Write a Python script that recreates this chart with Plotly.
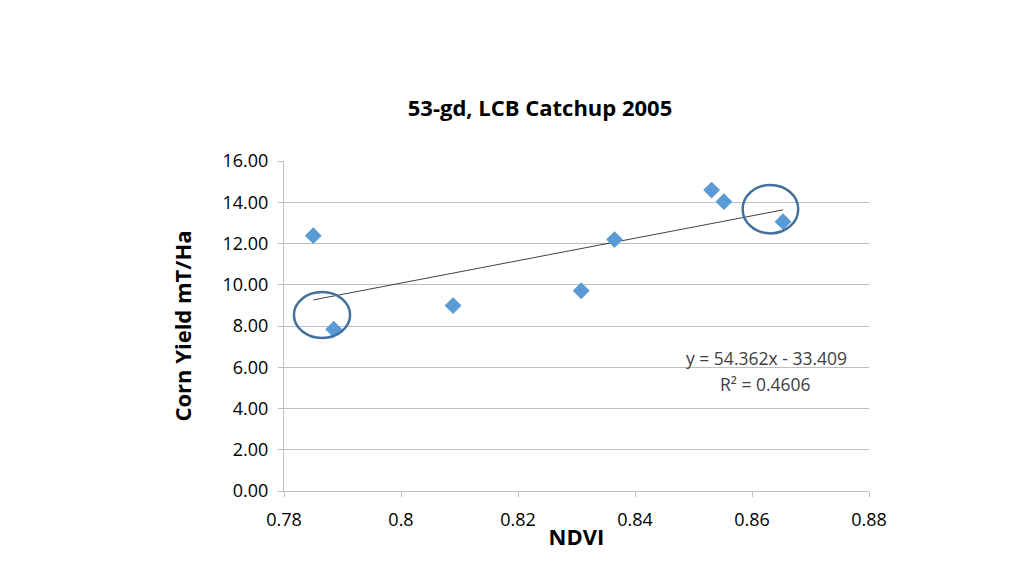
import plotly.graph_objects as go

ndvi = [0.7850, 0.7885, 0.8089, 0.8308, 0.8365, 0.8531, 0.8552, 0.8653]
yield_t = [12.38, 7.84, 8.99, 9.71, 12.19, 14.59, 14.03, 13.06]
slope, intercept = 54.362, -33.409
r2 = 0.4606
x_ticks = [0.78, 0.80, 0.82, 0.84, 0.86, 0.88]
x_tick_labels = ["0.78", "0.8", "0.82", "0.84", "0.86", "0.88"]
y_ticks = [0, 2, 4, 6, 8, 10, 12, 14, 16]
# highlight ellipses (x0, x1, y0, y1) in data units
ellipses = [(0.7817, 0.7913, 7.42, 9.65), (0.8584, 0.8679, 12.49, 14.84)]

FONT = "Open Sans"

fig = go.Figure()
tx = [min(ndvi), max(ndvi)]
fig.add_trace(go.Scatter(x=tx, y=[slope * v + intercept for v in tx], mode="lines",
                         line=dict(color="#000000", width=0.75), hoverinfo="skip", showlegend=False))
fig.add_trace(go.Scatter(x=ndvi, y=yield_t, mode="markers",
                         marker=dict(symbol="diamond", size=13, color="#5B9BD5"),
                         showlegend=False))

for x0, x1, y0, y1 in ellipses:
    fig.add_shape(type="circle", xref="x", yref="y", x0=x0, x1=x1, y0=y0, y1=y1,
                  line=dict(color="#41719C", width=2.5), fillcolor="rgba(0,0,0,0)")

fig.add_annotation(xref="x", yref="y", x=0.8625, y=6.45,
                   text=f"y = {slope}x - {abs(intercept)}",
                   showarrow=False, font=dict(family=FONT, size=17.5, color="#404040"))
fig.add_annotation(xref="x", yref="y", x=0.8623, y=5.19,
                   text=f"R² = {r2}",
                   showarrow=False, font=dict(family=FONT, size=17.5, color="#404040"))

fig.update_layout(
    width=1024, height=576,
    margin=dict(l=276, r=163, t=153, b=93),
    paper_bgcolor="white", plot_bgcolor="white",
    title=dict(text="<b>53-gd, LCB Catchup 2005</b>", x=532 / 1024, xanchor="center",
               y=1 - 100 / 576, yanchor="middle", xref="container", yref="container",
               font=dict(family=FONT, size=22, color="#000000")),
    xaxis=dict(range=[0.78, 0.88], tickvals=x_ticks, ticktext=x_tick_labels,
               showgrid=False, zeroline=False, showline=True, linecolor="#BFBFBF",
               ticks="outside", ticklen=5, tickcolor="#BFBFBF", ticklabelstandoff=7,
               tickfont=dict(family=FONT, size=18, color="#000000"),
               title=dict(text="<b>NDVI</b>", standoff=0,
                          font=dict(family=FONT, size=22, color="#000000"))),
    yaxis=dict(range=[0, 16], tickvals=y_ticks, tickformat=".2f",
               showgrid=True, gridcolor="#BFBFBF", gridwidth=1, zeroline=False,
               showline=True, linecolor="#BFBFBF",
               ticks="outside", ticklen=5, tickcolor="#BFBFBF", ticklabelstandoff=6,
               tickfont=dict(family=FONT, size=18, color="#000000"),
               title=dict(text="<b>Corn Yield mT/Ha</b>", standoff=24,
                          font=dict(family=FONT, size=22, color="#000000"))),
)

fig.write_html("out.html")
